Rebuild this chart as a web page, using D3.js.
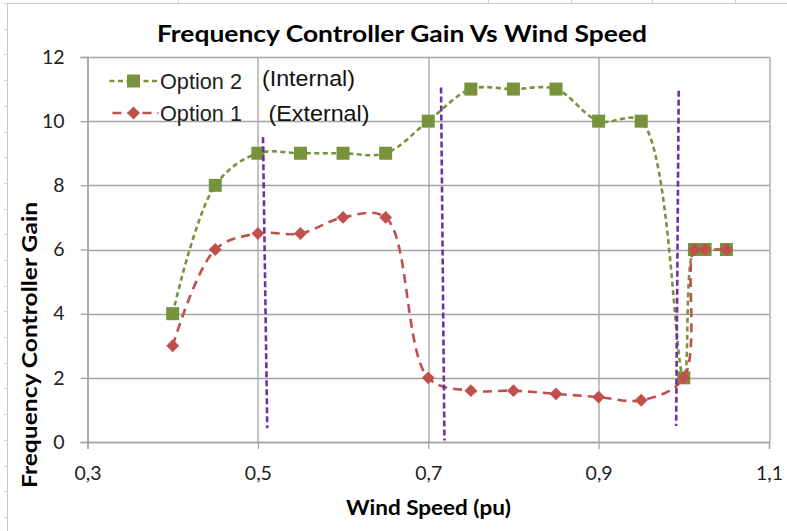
<!DOCTYPE html>
<html>
<head>
<meta charset="utf-8">
<script src="https://cdn.jsdelivr.net/npm/d3@7"></script>
<style>
  body { margin: 0; background: #fff; }
  svg { display: block; }
</style>
</head>
<body>
<div id="chart"></div>
<script>
// Data
const windSpeed = [0.4, 0.45, 0.5, 0.55, 0.6, 0.65, 0.7, 0.75, 0.8, 0.85, 0.9, 0.95, 1.0, 1.0125, 1.025, 1.05];
const option2Gain = [4, 8, 9, 9, 9, 9, 10, 11, 11, 11, 10, 10, 2, 6, 6, 6];
const option1Gain = [3, 6, 6.5, 6.5, 7, 7, 2, 1.6, 1.6, 1.5, 1.4, 1.3, 2, 6, 6, 6];
const seriesNames = ["Option 2", "Option 1"];
const seriesNotes = ["(Internal)", "(External)"];
const xTicks = [0.3, 0.5, 0.7, 0.9, 1.1];
const yTicks = [0, 2, 4, 6, 8, 10, 12];
// purple dashed guide lines (top x, bottom x, top y, bottom y)
const guideTopX = [0.506, 0.715, 0.994];
const guideBottomX = [0.511, 0.719, 0.991];
const guideTopY = [9.5, 11.05, 10.95];
const guideBottomY = [0.43, 0.05, 0.5];

const W = 787, H = 531;
const margin = { top: 57, right: 18, bottom: 89, left: 87.5 },
    width = W - margin.left - margin.right,
    height = H - margin.top - margin.bottom;

const green = "#77933C", red = "#C0504D", purple = "#7030A0", grid = "#a3a3a3";
const tickFont = "Lato, 'Open Sans', sans-serif";

const root = d3.select("#chart").append("svg")
    .attr("width", W)
    .attr("height", H);

// spreadsheet cell lines behind the chart
root.append("line").attr("x1", 7).attr("x2", W).attr("y1", 3.5).attr("y2", 3.5)
    .attr("stroke", "#c8c8c8");
root.append("line").attr("x1", 7.5).attr("x2", 7.5).attr("y1", 3).attr("y2", H)
    .attr("stroke", "#c8c8c8");
[178, 488, 571, 652, 735].forEach(x => {
    root.append("line").attr("x1", x + 0.5).attr("x2", x + 0.5).attr("y1", 0).attr("y2", 3)
        .attr("stroke", "#d0d0d0");
});
for (let y = 3; y < H; y += 25.7) {
    root.append("line").attr("x1", 4).attr("x2", 7).attr("y1", Math.round(y) + 0.5).attr("y2", Math.round(y) + 0.5)
        .attr("stroke", "#d0d0d0");
}

const svg = root.append("g")
    .attr("transform", `translate(${margin.left},${margin.top})`);

const x = d3.scaleLinear().domain([0.3, 1.1]).range([0, width]);
const y = d3.scaleLinear().domain([0, 12]).range([height, 0]);

// gridlines
svg.append("g")
    .selectAll("line")
    .data(yTicks)
    .enter().append("line")
    .attr("x1", 0).attr("x2", width)
    .attr("y1", d => Math.round(y(d)) + 0.5).attr("y2", d => Math.round(y(d)) + 0.5)
    .attr("stroke", grid).attr("stroke-width", 1.3);

svg.append("g")
    .selectAll("line")
    .data(xTicks)
    .enter().append("line")
    .attr("x1", d => Math.round(x(d)) + 0.5).attr("x2", d => Math.round(x(d)) + 0.5)
    .attr("y1", 0).attr("y2", height)
    .attr("stroke", grid).attr("stroke-width", 1.3);

// axes
const yAxis = svg.append("g")
    .call(d3.axisLeft(y).tickValues(yTicks).tickSize(7).tickPadding(16).tickFormat(d3.format("d")));
yAxis.select(".domain").attr("stroke", grid).attr("stroke-width", 1.3);
yAxis.selectAll(".tick line").attr("stroke", grid).attr("stroke-width", 1.3);
yAxis.selectAll("text")
    .style("font-family", tickFont).style("font-size", "19.5px").attr("fill", "#222");

const xAxis = svg.append("g")
    .attr("transform", `translate(0,${height})`)
    .call(d3.axisBottom(x).tickValues(xTicks).tickSize(7).tickPadding(17)
        .tickFormat(d => d3.format(".1f")(d).replace(".", ",")));
xAxis.select(".domain").attr("stroke", grid).attr("stroke-width", 1.3);
xAxis.selectAll(".tick line").attr("stroke", grid).attr("stroke-width", 1.3);
xAxis.selectAll("text")
    .style("font-family", tickFont).style("font-size", "19.5px").attr("fill", "#222");

// smoothed lines
const line = d3.line()
    .x(d => x(d[0]))
    .y(d => y(d[1]))
    .curve(d3.curveCatmullRom.alpha(0.5));

const opt2 = windSpeed.map((w, i) => [w, option2Gain[i]]);
const opt1 = windSpeed.map((w, i) => [w, option1Gain[i]]);

svg.append("path")
    .datum(opt2)
    .attr("d", line)
    .attr("fill", "none")
    .attr("stroke", green)
    .attr("stroke-width", 2.6)
    .attr("stroke-dasharray", "5,3.5");

svg.selectAll(".sq")
    .data(opt2)
    .enter().append("rect")
    .attr("class", "sq")
    .attr("x", d => x(d[0]) - 6.5)
    .attr("y", d => y(d[1]) - 6.5)
    .attr("width", 13).attr("height", 13)
    .attr("fill", green);

svg.append("path")
    .datum(opt1)
    .attr("d", line)
    .attr("fill", "none")
    .attr("stroke", red)
    .attr("stroke-width", 2.6)
    .attr("stroke-dasharray", "9,6");

const diamond = d3.symbol().type(d3.symbolDiamond2).size(105);
svg.selectAll(".dm")
    .data(opt1)
    .enter().append("path")
    .attr("class", "dm")
    .attr("d", diamond)
    .attr("transform", d => `translate(${x(d[0])},${y(d[1])})`)
    .attr("fill", red);

// purple guides
svg.selectAll(".guide")
    .data(guideTopX)
    .enter().append("line")
    .attr("class", "guide")
    .attr("x1", (d, i) => x(d)).attr("y1", (d, i) => y(guideTopY[i]))
    .attr("x2", (d, i) => x(guideBottomX[i])).attr("y2", (d, i) => y(guideBottomY[i]))
    .attr("stroke", purple)
    .attr("stroke-width", 2.6)
    .attr("stroke-dasharray", "6,3");

// legend
const legend = svg.append("g").attr("transform", "translate(22,0)");
const legendFont = "'Liberation Sans', Arial, sans-serif";
seriesNames.forEach((name, i) => {
    const ly = 24 + i * 32;
    const col = i === 0 ? green : red;
    legend.append("line")
        .attr("x1", 0).attr("x2", 49).attr("y1", ly).attr("y2", ly)
        .attr("stroke", col).attr("stroke-width", 2.6)
        .attr("stroke-dasharray", i === 0 ? "5,3.5" : "9,6")
        .attr("stroke-dashoffset", i === 0 ? 0 : -3);
    if (i === 0) {
        legend.append("rect").attr("x", 17.5).attr("y", ly - 6.5).attr("width", 13).attr("height", 13).attr("fill", col);
    } else {
        legend.append("path").attr("d", diamond).attr("transform", `translate(24,${ly})`).attr("fill", col);
    }
    legend.append("text")
        .attr("x", 50.5).attr("y", ly + 8)
        .attr("textLength", 82).attr("lengthAdjust", "spacingAndGlyphs")
        .style("font-family", legendFont).style("font-size", "21.5px").attr("fill", "#222")
        .text(name);
});

const noteWidths = [93, 101];
svg.selectAll(".note")
    .data(seriesNotes)
    .enter().append("text")
    .attr("class", "note")
    .attr("x", (d, i) => i === 0 ? 174.5 : 181)
    .attr("y", (d, i) => i === 0 ? 29 : 64)
    .attr("textLength", (d, i) => noteWidths[i]).attr("lengthAdjust", "spacingAndGlyphs")
    .style("font-family", legendFont).style("font-size", "21.5px").attr("fill", "#111")
    .text(d => d);

// titles
root.append("text")
    .attr("x", 402).attr("y", 42)
    .attr("text-anchor", "middle")
    .attr("textLength", 490).attr("lengthAdjust", "spacingAndGlyphs")
    .style("font-family", tickFont).style("font-weight", "bold").style("font-size", "23px")
    .text("Frequency Controller Gain Vs Wind Speed");

root.append("text")
    .attr("x", 428.5).attr("y", 515)
    .attr("text-anchor", "middle")
    .attr("textLength", 165).attr("lengthAdjust", "spacingAndGlyphs")
    .style("font-family", tickFont).style("font-weight", "bold").style("font-size", "20px")
    .text("Wind Speed (pu)");

root.append("text")
    .attr("transform", "translate(37,345) rotate(-90)")
    .attr("text-anchor", "middle")
    .attr("textLength", 286).attr("lengthAdjust", "spacingAndGlyphs")
    .style("font-family", tickFont).style("font-weight", "bold").style("font-size", "20px")
    .text("Frequency Controller Gain");
</script>
</body>
</html>
